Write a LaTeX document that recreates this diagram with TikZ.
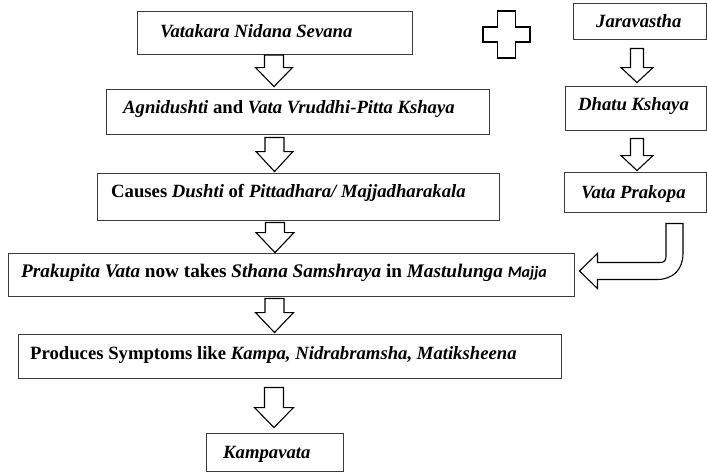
\documentclass[tikz,border=0pt]{standalone}
\usepackage{fontspec}
\setmainfont{Liberation Serif}
\newfontfamily\carl{Carlito}
\usetikzlibrary{calc}
\definecolor{boxline}{HTML}{3A3A3A}
\newcommand\bi[1]{\textbf{\textit{#1}}}
\newcommand\mainfs{\fontsize{18.7}{22}\selectfont}
% #1 from node, #2 to node, #3 x position, #4 gap below source, #5 gap above target,
% #6 shaft half width, #7 head half width, #8 head length
\newcommand\blockdown[8]{%
  \draw[hollow] let \p1=(#1.south), \p2=(#2.north), \p3=(#3,0) in
    (\x3-#6pt,\y1-#4pt) -- (\x3-#6pt,\y2+#5pt+#8pt) -- (\x3-#7pt,\y2+#5pt+#8pt)
    -- (\x3,\y2+#5pt) -- (\x3+#7pt,\y2+#5pt+#8pt) -- (\x3+#6pt,\y2+#5pt+#8pt)
    -- (\x3+#6pt,\y1-#4pt) -- cycle;}
\begin{document}
\begin{tikzpicture}[x=1pt,y=-1pt,
  box/.style={draw=boxline, line width=0.9pt, rectangle, inner sep=0pt},
  txt/.style={font=\mainfs, anchor=base west, inner sep=0pt},
  hollow/.style={draw=black, line width=1.1pt, fill=white, line join=miter}]
\useasboundingbox (0,0) rectangle (707,472);
% boxes
\node[box, minimum width=275pt, minimum height=43pt] (b1) at (274.5,32.5) {};
\node[box, minimum width=383pt, minimum height=45pt] (b2) at (297.5,111.5) {};
\node[box, minimum width=402pt, minimum height=47pt] (b3) at (298,196.5) {};
\node[box, minimum width=566pt, minimum height=43pt] (b4) at (291,274.5) {};
\node[box, minimum width=543pt, minimum height=44pt] (b5) at (289.5,356) {};
\node[box, minimum width=137pt, minimum height=38pt] (b6) at (274.5,452) {};
\node[box, minimum width=133pt, minimum height=36pt] (r1) at (639.5,21) {};
\node[box, minimum width=141pt, minimum height=44pt] (r2) at (635.5,108) {};
\node[box, minimum width=142pt, minimum height=40pt] (r3) at (635,192) {};
% texts
\node[txt] (t1) at (160,37) {\bi{Vatakara Nidana Sevana}};
\node[txt] (t2) at (123,113) {\bi{Agnidushti} \textbf{and} \bi{Vata Vruddhi-Pitta Kshaya}};
\node[txt] (t3) at (111,197) {\textbf{Causes} \bi{Dushti} \textbf{of} \bi{Pittadhara/ Majjadharakala}};
\node[txt, font=\fontsize{19.2}{22}\selectfont] (t4) at (21,277) {\bi{Prakupita Vata} \textbf{now takes} \bi{Sthana Samshraya} \textbf{in} \bi{Mastulunga} {\carl\fontsize{16}{18}\selectfont\bfseries\itshape Majja}};
\node[txt] (t5) at (30,359) {\textbf{Produces Symptoms like} \bi{Kampa, Nidrabramsha, Matiksheena}};
\node[txt] (t6) at (223,458) {\bi{Kampavata}};
\node[txt] (t7) at (596,27) {\bi{Jaravastha}};
\node[txt] (t8) at (578,110) {\bi{Dhatu Kshaya}};
\node[txt] (t9) at (581,198) {\bi{Vata Prakopa}};
% block arrows, main column
\blockdown{b1}{b2}{274}{0.5}{2}{9.5}{18.5}{19}
\blockdown{b2}{b3}{274.5}{3}{1}{9.5}{18.5}{20}
\blockdown{b3}{b4}{275}{2}{0}{9.5}{19}{20}
\blockdown{b4}{b5}{274.5}{2}{1}{9.5}{19}{20}
\blockdown{b5}{b6}{274}{9}{5}{9.5}{19.5}{20}
% block arrows, right column
\blockdown{r1}{r2}{637}{9}{3}{6.5}{16}{15}
\blockdown{r2}{r3}{637}{8}{1}{6.5}{16}{15}
% bent arrow from Vata Prakopa to the Prakupita box
\draw[hollow] let \p1=(r3.south), \p2=(b4.east) in
  (666pt,\y1-11pt) -- (683pt,\y1-11pt)
  -- (683pt,\y2-5pt+26pt) .. controls (683pt,\y2-5pt+10pt) and (673pt,\y2-5pt) .. (657pt,\y2-5pt)
  -- (\x2+23pt,\y2-5pt) -- (\x2+23pt,\y2-14pt) -- (\x2+5pt,\y2+3.5pt)
  -- (\x2+23pt,\y2+21pt) -- (\x2+23pt,\y2+12pt)
  -- (660pt,\y2+12pt) .. controls (664pt,\y2+12pt) and (666pt,\y2+14pt) .. (666pt,\y2+18pt)
  -- cycle;
% plus sign
\coordinate (plus) at (506.5,34.5);
\draw[hollow] ($(plus)+(-9,-23.5)$) -- ($(plus)+(9,-23.5)$) -- ($(plus)+(9,-7.5)$)
  -- ($(plus)+(23.5,-7.5)$) -- ($(plus)+(23.5,7.5)$) -- ($(plus)+(9,7.5)$)
  -- ($(plus)+(9,23.5)$) -- ($(plus)+(-9,23.5)$) -- ($(plus)+(-9,7.5)$)
  -- ($(plus)+(-23.5,7.5)$) -- ($(plus)+(-23.5,-7.5)$) -- ($(plus)+(-9,-7.5)$) -- cycle;
\end{tikzpicture}
\end{document}
